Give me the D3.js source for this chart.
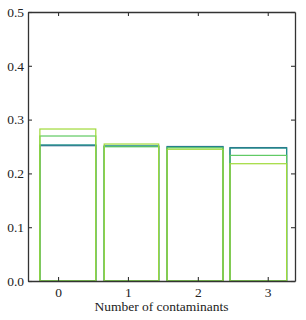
<!DOCTYPE html>
<html>
<head>
<meta charset="utf-8">
<script src="https://cdn.jsdelivr.net/npm/d3@7"></script>
<style>
  body { margin: 0; background: #fff; }
</style>
</head>
<body>
<div id="chart"></div>
<script>
var svgWidth = 306;
var svgHeight = 320;
var fontFamily = "Liberation Serif, Times New Roman, DejaVu Serif, serif";

var margin = { top: 12, right: 11, bottom: 39, left: 28 };
var width = svgWidth - margin.left - margin.right;
var height = svgHeight - margin.top - margin.bottom;

// Data
var categories = [0, 1, 2, 3];
var binLeft = [-0.26, 0.66, 1.56, 2.46];
var binRight = [0.54, 1.44, 2.36, 3.27];
var seriesColors = ["#31688e", "#21918c", "#5ec962", "#a0da39"];
var seriesA = [0.2515, 0.2505, 0.2500, 0.2480];
var seriesB = [0.2530, 0.2510, 0.2490, 0.2470];
var seriesC = [0.2695, 0.2495, 0.2475, 0.2335];
var seriesD = [0.2825, 0.2546, 0.2449, 0.2180];
var yTicks = [0.0, 0.1, 0.2, 0.3, 0.4, 0.5];

var allSeries = [seriesA, seriesB, seriesC, seriesD];

var svg = d3.select("#chart")
    .append("svg")
    .attr("width", svgWidth)
    .attr("height", svgHeight)
    .attr("font-family", fontFamily);

var chartGroup = svg.append("g")
    .attr("transform", `translate(${margin.left}, ${margin.top})`);

var xScale = d3.scaleLinear()
    .domain([-0.43, 3.39])
    .range([0, width]);

var yScale = d3.scaleLinear()
    .domain([0, 0.5])
    .range([height, 0]);

// Outlined bars, one group per series
allSeries.forEach(function (values, i) {
    chartGroup.append("g")
        .selectAll("rect")
        .data(values)
        .enter()
        .append("rect")
        .attr("x", (d, j) => xScale(binLeft[j]))
        .attr("width", (d, j) => xScale(binRight[j]) - xScale(binLeft[j]))
        .attr("y", d => yScale(d))
        .attr("height", d => height - yScale(d))
        .attr("fill", "none")
        .attr("stroke", seriesColors[i])
        .attr("stroke-width", 1.2);
});

// Axes with inward ticks on all sides
var tickLen = 4;
var bottomAxis = d3.axisBottom(xScale).tickValues(categories).tickSizeInner(-tickLen).tickSizeOuter(0).tickPadding(6).tickFormat(d3.format("d"));
var topAxis = d3.axisTop(xScale).tickValues(categories).tickSizeInner(-tickLen).tickSizeOuter(0).tickFormat("");
var leftAxis = d3.axisLeft(yScale).tickValues(yTicks).tickSizeInner(-tickLen).tickSizeOuter(0).tickPadding(4).tickFormat(d3.format(".1f"));
var rightAxis = d3.axisRight(yScale).tickValues(yTicks).tickSizeInner(-tickLen).tickSizeOuter(0).tickFormat("");

var axes = [
    chartGroup.append("g").attr("transform", `translate(0, ${height})`).call(bottomAxis),
    chartGroup.append("g").call(topAxis),
    chartGroup.append("g").call(leftAxis),
    chartGroup.append("g").attr("transform", `translate(${width}, 0)`).call(rightAxis)
];

axes.forEach(function (a) {
    a.attr("font-family", fontFamily).attr("font-size", 13.5);
    a.selectAll("path").attr("stroke", "#333").attr("stroke-width", 1.3);
    a.selectAll("line").attr("stroke", "#333").attr("stroke-width", 1.1);
    a.selectAll("text").attr("fill", "#222").attr("font-family", fontFamily);
});

// Axis label
chartGroup.append("text")
    .attr("x", width / 2)
    .attr("y", height + 30)
    .attr("text-anchor", "middle")
    .attr("fill", "#222")
    .attr("font-family", fontFamily)
    .attr("font-size", 13.5)
    .text("Number of contaminants");
</script>
</body>
</html>
